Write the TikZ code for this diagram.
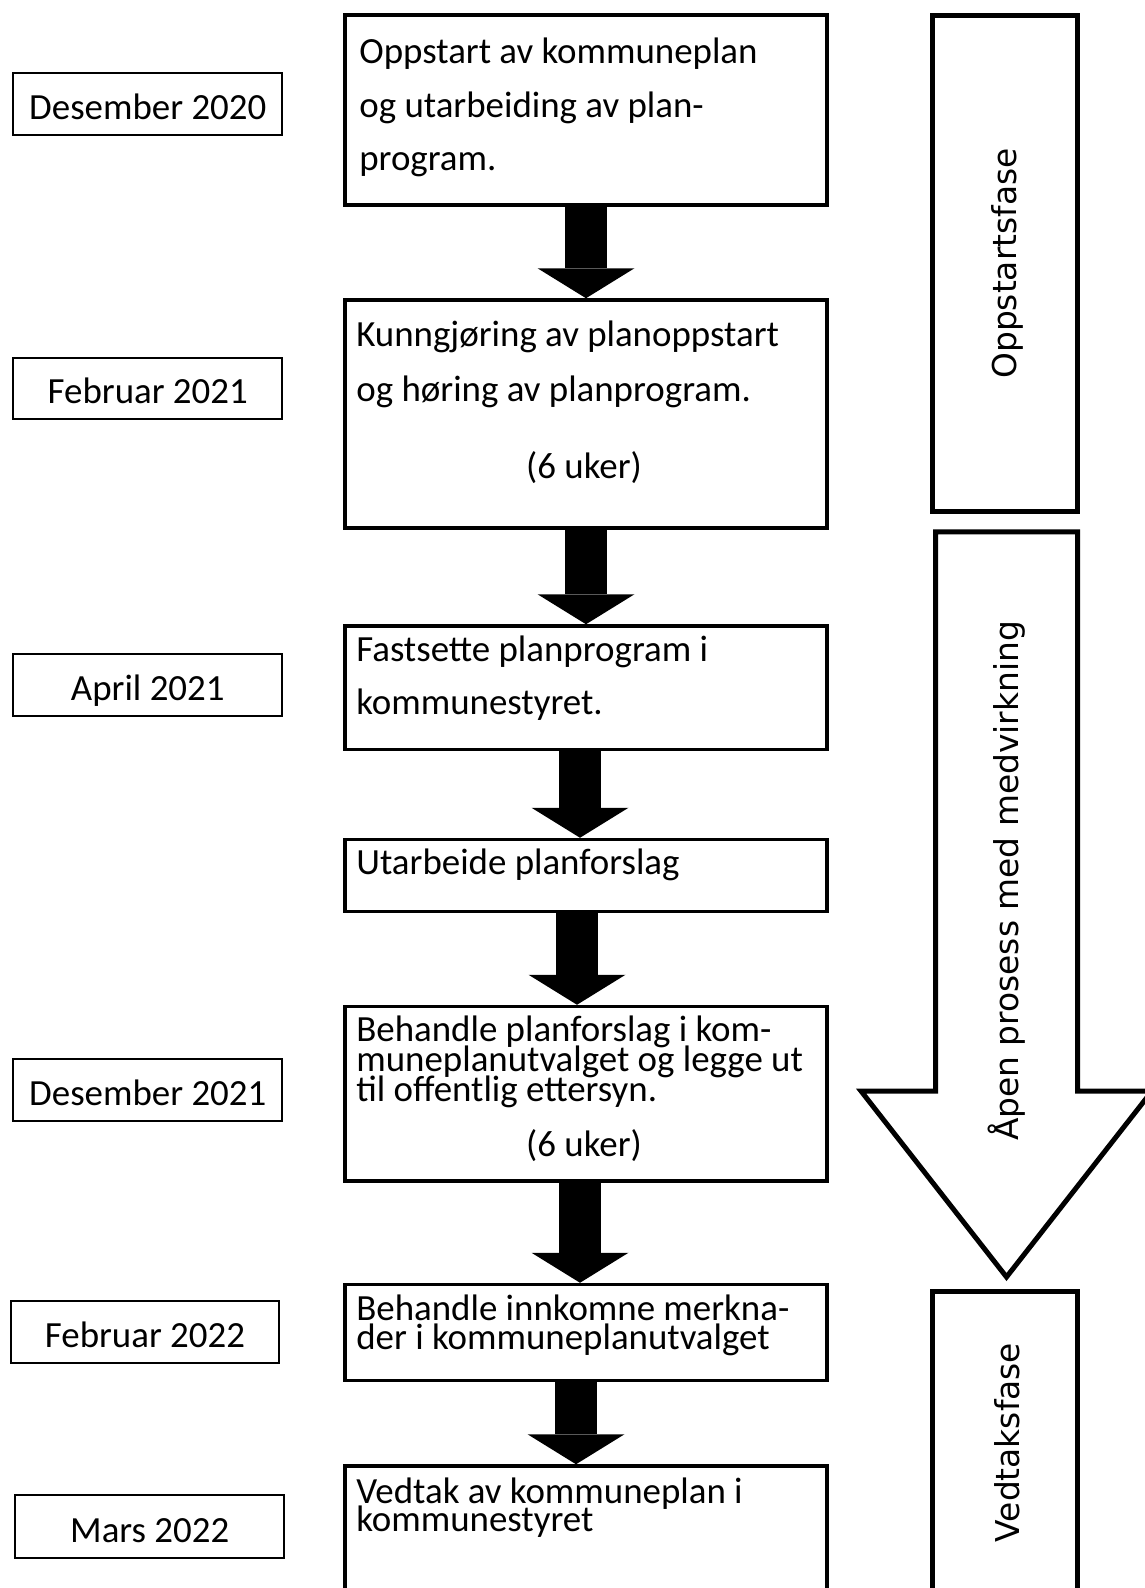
\documentclass[tikz,border=0pt]{standalone}
\usepackage{fontspec}
\setmainfont{Carlito}
\newfontfamily\phasefont{DejaVu Sans}
\usetikzlibrary{arrows.meta,fit}

\begin{document}
\begin{tikzpicture}[x=0.02cm,y=-0.02cm,
    datebox/.style={draw, line width=0.04cm, inner sep=0, minimum width=5.39cm, minimum height=1.24cm,
      text height=0.62cm, text depth=0pt, font=\fontsize{21}{24}\selectfont},
    stepbox/.style={draw, line width=0.07cm, inner sep=0},
    steptext/.style={anchor=base west, align=left, inner sep=0},
    phasebox/.style={draw, line width=0.1cm, inner sep=0},
    phasetext/.style={rotate=90, inner sep=0, font=\phasefont\fontsize{18.7}{22}\selectfont},
    flow/.style={line width=0.84cm, -{Triangle[width=1.94cm,length=0.6cm,line width=0pt]}}]
  \useasboundingbox (0,0) rectangle (1145,1588);
  \clip (0,0) rectangle (1145,1588);
  % dates
  \node[datebox] (dec20) at (147.75,103.75) {Desember 2020};
  \node[datebox] (feb21) at (147.75,388.5) {Februar 2021};
  \node[datebox] (apr21) at (147.75,685) {April 2021};
  \node[datebox] (dec21) at (147.75,1090) {Desember 2021};
  \node[datebox, minimum width=5.36cm] (feb22) at (145,1332) {Februar 2022};
  \node[datebox, minimum height=1.26cm] (mar22) at (149.75,1526.5) {Mars 2022};
  % steps
  \node[stepbox, fit={(345,15) (827,205)}] (s1) {};
  \node[stepbox, fit={(345,300) (827,528)}] (s2) {};
  \node[stepbox, fit={(345,626) (827,749.5)}] (s3) {};
  \node[stepbox, fit={(345,839.5) (827,911.5)}] (s4) {};
  \node[stepbox, fit={(345,1006.5) (827,1181)}] (s5) {};
  \node[stepbox, fit={(345,1284.5) (827,1380.5)}] (s6) {};
  \node[stepbox, fit={(345,1466) (827,1640)}] (s7) {};
  \node[steptext, font=\fontsize{21}{30.6}\selectfont] (t1) at (359,171)
    {Oppstart av kommuneplan\\og utarbeiding av plan-\\program.};
  \node[steptext, font=\fontsize{21}{31.2}\selectfont] (t2) at (356,401)
    {Kunngjøring av planoppstart\\og høring av planprogram.};
  \node[anchor=base, inner sep=0, font=\fontsize{21}{24}\selectfont] (w1) at (584,478.6) {(6 uker)};
  \node[steptext, font=\fontsize{21}{30.4}\selectfont] (t3) at (356,714.6)
    {Fastsette planprogram i\\kommunestyret.};
  \node[steptext, font=\fontsize{21}{24}\selectfont] (t4) at (356,874.7) {Utarbeide planforslag};
  \node[steptext, font={\fontsize{21}{16.8}\selectfont\lineskiplimit-100pt}] (t5) at (356,1101)
    {Behandle planforslag i kom-\\muneplanutvalget og legge ut\\til offentlig ettersyn.};
  \node[anchor=base, inner sep=0, font=\fontsize{21}{24}\selectfont] (w2) at (584,1156.6) {(6 uker)};
  \node[steptext, font={\fontsize{21}{16.8}\selectfont\lineskiplimit-100pt}] (t6) at (356,1349.6)
    {Behandle innkomne merkna-\\der i kommuneplanutvalget};
  \node[steptext, font={\fontsize{21}{16.3}\selectfont\lineskiplimit-100pt}] (t7) at (356,1531.7)
    {Vedtak av kommuneplan i\\kommunestyret};
  % arrows between steps
  \draw[flow] (s1.south) -- (s2.north);
  \draw[flow] (s2.south) -- (s3.north);
  \draw[flow] ([xshift=-0.12cm]s3.south) -- ([xshift=-0.12cm]s4.north);
  \draw[flow] ([xshift=-0.18cm]s4.south) -- ([xshift=-0.18cm]s5.north);
  \draw[flow] ([xshift=-0.12cm]s5.south) -- ([xshift=-0.12cm]s6.north);
  \draw[flow] ([xshift=-0.2cm]s6.south) -- ([xshift=-0.2cm]s7.north);
  % phases
  \node[phasebox, fit={(932.5,15.5) (1077.5,511.5)}] (p1) {};
  \node[phasetext] (p1text) at (1007,263.5) {Oppstartsfase};
  \draw[phasebox] (935.5,531.8) -- (1077.5,531.8) -- (1077.5,1091) -- (1152,1091)
    -- (1006.5,1277) -- (861,1091) -- (935.5,1091) -- cycle;
  \node[phasetext] (p2text) at (1007,881) {Åpen prosess med medvirkning};
  \node[phasebox, fit={(932,1291.5) (1077.5,1640)}] (p3) {};
  \node[phasetext] (p3text) at (1007,1442.5) {Vedtaksfase};
\end{tikzpicture}
\end{document}
